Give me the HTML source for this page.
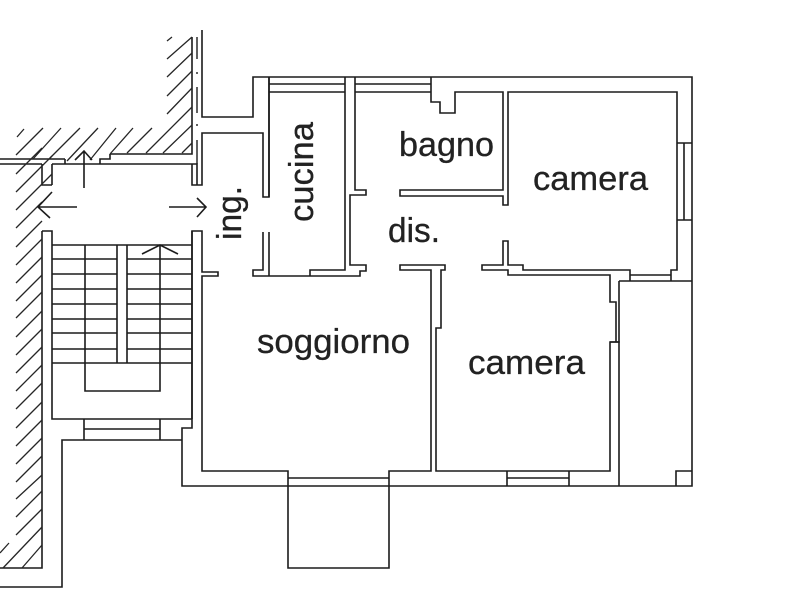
<!DOCTYPE html>
<html>
<head>
<meta charset="utf-8">
<style>
html,body{margin:0;padding:0;background:#fff;width:800px;height:600px;overflow:hidden}
svg{display:block;filter:blur(0.35px)}
.w{fill:none;stroke:#1c1c1c;stroke-width:1.6}
.h{fill:none;stroke:#262626;stroke-width:1.3}
text{font-family:"Liberation Sans",sans-serif;font-size:34.5px;fill:#222;stroke:#222;stroke-width:0.3}
</style>
</head>
<body>
<svg width="800" height="600" viewBox="0 0 800 600" xmlns="http://www.w3.org/2000/svg">
<!-- walls -->
<g class="w">
<path d="M202 30V117H253V77H692V486H182V428H192V231H202V272H218V276H202V471H288V568H389V471H431V270H400V265H445V270H441V328H436V471H610V342H619V486"/>
<path d="M0 159H65M0 164H42M52 164H197V185M110 154H192V37M42 164V185H52M192 164V185H202V133H263V197H269V77"/>
<path d="M65 159V164M100 164V159H110V154"/>
<path d="M197 37V59M197 72V74M197 87V113M197 124V126M197 140V164" stroke-width="1.4"/>
<path d="M42 231H52V419H192M42 231V568H0M0 587H62V440H182"/>
<path d="M52 185V164M192 231V419"/>
<!-- stairs -->
<path d="M52 245H192M52 259H117M127 259H192M52 274H117M127 274H192M52 289H117M127 289H192M52 304H117M127 304H192M52 319H117M127 319H192M52 333H117M127 333H192M52 349H117M127 349H192M52 363H192"/>
<path d="M85 245V391H160V245M117 245V363M127 245V363"/>
<path d="M84 419V440M160 419V440M84 429H160"/>
<!-- balcony -->
<path d="M288 478H389"/>
<!-- kitchen -->
<path d="M269 84H345M269 92H345M269 197V77M263 232V270H253V276H360V271H366V265H350V195H366V190H355V77M345 77V270H310V276M269 232V276"/>
<!-- bagno and camera -->
<path d="M355 84H431M355 92H431M431 77V102H440V113H455V92H503V190H400V196H503V205H508V92H677V270H671V281H630V270H523V265H508V241H503V265H482V270H508V275H610V302H616V342H610M619 302V342H615M619 281H692M619 281V302M630 275H671"/>
<!-- window right -->
<path d="M677 143H692M677 220H692M684 143V220"/>
<!-- window lower -->
<path d="M507 471V486M569 471V486M507 478H569"/>
<!-- corner -->
<path d="M676 486V471H692"/>
</g>
<!-- hatching -->
<g class="h">
<path d="M17 137L24 129M16 155L43 128M33 159L61 128M50 158L80 128M67 161L98 128M90 160L116 128M110 154L133 128M127 153L152 128M146 153L192 107M163 153L192 125M182 153L192 143"/>
<path d="M167 59L192 37M167 77L192 53M167 96L192 71M167 114L192 88M167 41L172 37"/>
<path d="M16 174L42 148M16 192L52 156M16 210L52 174M16 228L42 202M16 247L42 221M16 265L42 239M16 283L42 257M16 301L42 275"/>
<path d="M16 318L42 292M16 337L42 311M16 355L42 329M16 373L42 347M16 391L42 365M16 409L42 383M16 428L42 402M16 446L42 420M16 464L42 438M16 482L42 456M16 499L42 475M16 517L42 491M16 535L42 509M0 553L9 543M3 568L42 527M22 568L42 545"/>
</g>
<!-- arrows -->
<g class="w" stroke-width="1.3">
<path d="M84 188V151M75 160L84 151L92 160"/>
<path d="M77 207H38M52 192L38 207L50 218"/>
<path d="M169 207H206M197 198L206 207L197 217"/>
<path d="M142 254L160 245L178 254"/>
</g>
<!-- labels -->
<text x="399" y="156" textLength="95" lengthAdjust="spacingAndGlyphs">bagno</text>
<text x="533" y="190" textLength="115" lengthAdjust="spacingAndGlyphs">camera</text>
<text x="468" y="374" textLength="117" lengthAdjust="spacingAndGlyphs">camera</text>
<text x="257" y="353" textLength="153" lengthAdjust="spacingAndGlyphs">soggiorno</text>
<text x="388" y="242" textLength="52" lengthAdjust="spacingAndGlyphs">dis.</text>
<text transform="translate(241 240) rotate(-90)" textLength="54" lengthAdjust="spacingAndGlyphs">ing.</text>
<text transform="translate(313 222) rotate(-90)" textLength="100" lengthAdjust="spacingAndGlyphs">cucina</text>
</svg>
</body>
</html>
